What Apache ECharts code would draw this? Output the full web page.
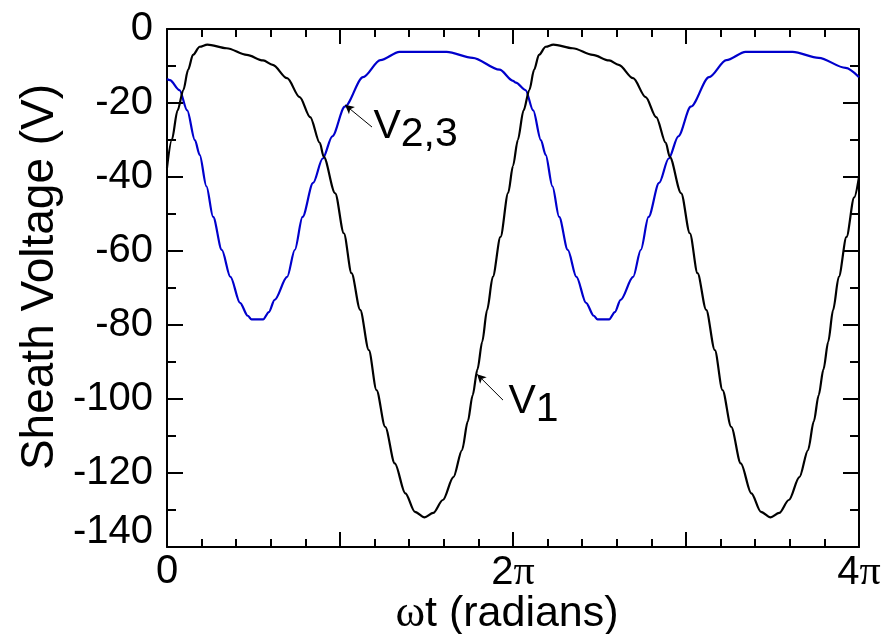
<!DOCTYPE html>
<html>
<head>
<meta charset="utf-8">
<script src="https://cdn.jsdelivr.net/npm/echarts@6/dist/echarts.min.js"></script>
<style>
html,body{margin:0;padding:0;background:#fff;}
#chart{width:892px;height:634px;}
</style>
</head>
<body>
<div id="chart"></div>
<script>
// phase ωt in degrees (720 = 4π)
const v1Phase = [0,5,11,17,22,27,34,42,62,83,100,110,125,138,149,159,163,175,184,192,201,210,218,227,237,248,258,268,277,287,298,307,313,318,323,328,333,339,347,355,360,
  365,371,377,382,387,394,402,422,443,460,470,485,498,509,519,523,535,544,552,561,570,578,587,597,608,618,628,637,647,658,667,673,678,683,688,693,699,707,715,720];
const v1Values = [-37.5,-30,-22,-16.5,-11,-7,-4.8,-4.2,-5.2,-7,-8.5,-9.7,-13.3,-18.4,-23.8,-30.8,-34.5,-44.4,-55.2,-66,-75.9,-86.8,-97.6,-107.5,-117.4,-125.5,-130.5,-132,-130.8,-127.3,-121.1,-113.8,-106,-99,-92,-84.5,-76,-67,-56.2,-44.3,-37,
  -30,-22,-16.5,-11,-7,-4.8,-4.2,-5.2,-7,-8.5,-9.7,-13.3,-18.4,-23.8,-30.8,-34.5,-44.4,-55.2,-66,-75.9,-86.8,-97.6,-107.5,-117.4,-125.5,-130.5,-132,-130.8,-127.3,-121.1,-113.8,-106,-99,-92,-84.5,-76,-67,-56.2,-45.5,-40];

const v23Phase = [0,3,13,21,29,34,41,48,57,66,76,84,88,100,106,112,125,133,141,152,162,172,185,204,222,242,291,318,346,360,
  363,373,381,389,394,401,408,417,426,436,444,448,460,466,472,485,493,501,512,522,532,545,564,582,602,651,678,706,720];
const v23Values = [-13.5,-13.8,-16.5,-22,-30,-34,-42.5,-50.8,-59.7,-67,-74,-77.5,-78.5,-78.5,-76.5,-73.2,-67,-59.7,-50.8,-41.6,-35,-29,-21,-13,-8.4,-6.2,-6.2,-7.8,-11,-14,
  -14.5,-16.5,-22,-30,-34,-42.5,-50.8,-59.7,-67,-74,-77.5,-78.5,-78.5,-76.5,-73.2,-67,-59.7,-50.8,-41.6,-35,-29,-21,-13,-8.4,-6.2,-6.2,-7.8,-10.5,-13];

const xTickLabels = {0: '{a|0}', 360: '{a|2}{p|π}', 720: '{a|4}{p|π}'};

const chart = echarts.init(document.getElementById('chart'), null, {renderer:'canvas'});
const FONT = 'Liberation Sans, Arial, sans-serif';
const SERIF = 'Liberation Serif, Times New Roman, serif';

const axisLineStyle = {color:'#000', width:2};
function xAxisCfg(pos, showLabels){
  return {
    type:'value', position:pos, min:0, max:720, interval:180,
    axisLine:{show:true, onZero:false, lineStyle:axisLineStyle},
    axisTick:{show:true, inside:true, length:15, lineStyle:{color:'#000', width:2}},
    minorTick:{show:true, splitNumber:5, length:8, lineStyle:{color:'#000', width:2}},
    splitLine:{show:false},
    axisLabel:{show:showLabels, margin:5, color:'#000', fontFamily:FONT, fontSize:40,
      formatter:(v)=> xTickLabels[v] !== undefined ? xTickLabels[v] : '',
      rich:{a:{fontFamily:FONT, fontSize:40, color:'#000'}, p:{fontFamily:SERIF, fontSize:42, color:'#000'}}},
    name: showLabels ? '{w|ω}t (radians)' : '',
    nameLocation:'middle', nameGap:45, nameMoveOverlap:false,
    nameTextStyle:{fontFamily:FONT, fontSize:43, color:'#000', padding:[0,12,0,0],
      rich:{w:{fontFamily:SERIF, fontSize:45, color:'#000'}}}
  };
}
function yAxisCfg(pos, showLabels){
  return {
    type:'value', position:pos, min:-140, max:0, interval:20,
    axisLine:{show:true, onZero:false, lineStyle:axisLineStyle},
    axisTick:{show:true, inside:true, length:16, lineStyle:{color:'#000', width:2}},
    minorTick:{show:true, splitNumber:2, length:9, lineStyle:{color:'#000', width:2}},
    splitLine:{show:false},
    axisLabel:{show:showLabels, margin:14, color:'#000', fontFamily:FONT, fontSize:40,
      formatter:(v)=> v === -140 ? '{s|-140}' : String(v),
      rich:{s:{fontFamily:FONT, fontSize:40, color:'#000', padding:[0,0,30,0]}}},
    name: showLabels ? 'Sheath Voltage (V)' : '',
    nameLocation:'middle', nameGap:104, nameRotate:90, nameMoveOverlap:false,
    nameTextStyle:{fontFamily:FONT, fontSize:46, color:'#000', padding:[0,0,0,22]}
  };
}

const labelRich = {
  v:{fontFamily:FONT, fontSize:41, color:'#000', lineHeight:40},
  s:{fontFamily:FONT, fontSize:41, color:'#000', lineHeight:40, padding:[16,0,0,0]}
};

chart.setOption({
  animation:false,
  backgroundColor:'#fff',
  grid:{left:167, right:33, top:29, bottom:87, containLabel:false, outerBoundsMode:'none'},
  xAxis:[xAxisCfg('bottom', true), xAxisCfg('top', false)],
  yAxis:[yAxisCfg('left', true), yAxisCfg('right', false)],
  series:[
    {
      name:'V1', type:'line', xAxisIndex:0, yAxisIndex:0,
      data:v1Phase.map((p,i)=>[p, v1Values[i]]),
      showSymbol:false, symbol:'none', smooth:0.3, smoothMonotone:'x',
      lineStyle:{color:'#000', width:2.2}, z:3,
      markLine:{silent:true, symbol:['none','arrow'], symbolSize:[7,9],
        lineStyle:{color:'#000', width:1, type:'solid'}, label:{show:false},
        data:[[{coord:[349.6,-100.3]},{coord:[322.6,-93.3]}]]},
      markPoint:{silent:true, symbol:'circle', symbolSize:1, itemStyle:{color:'rgba(0,0,0,0)'},
        label:{show:true, position:'right', distance:0, formatter:'{v|V}{s|1}', rich:labelRich},
        data:[{coord:[354.8,-100.8]}]}
    },
    {
      name:'V2,3', type:'line', xAxisIndex:0, yAxisIndex:0,
      data:v23Phase.map((p,i)=>[p, v23Values[i]]),
      showSymbol:false, symbol:'none', smooth:0.3, smoothMonotone:'x',
      lineStyle:{color:'#0000cc', width:2.2}, z:2,
      markLine:{silent:true, symbol:['none','arrow'], symbolSize:[7,9],
        lineStyle:{color:'#000', width:1, type:'solid'}, label:{show:false},
        data:[[{coord:[213.3,-26.5]},{coord:[185.2,-20.5]}]]},
      markPoint:{silent:true, symbol:'circle', symbolSize:1, itemStyle:{color:'rgba(0,0,0,0)'},
        label:{show:true, position:'right', distance:0, formatter:'{v|V}{s|2,3}', rich:labelRich},
        data:[{coord:[214.3,-26.5]}]}
    }
  ]
});
</script>
</body>
</html>
